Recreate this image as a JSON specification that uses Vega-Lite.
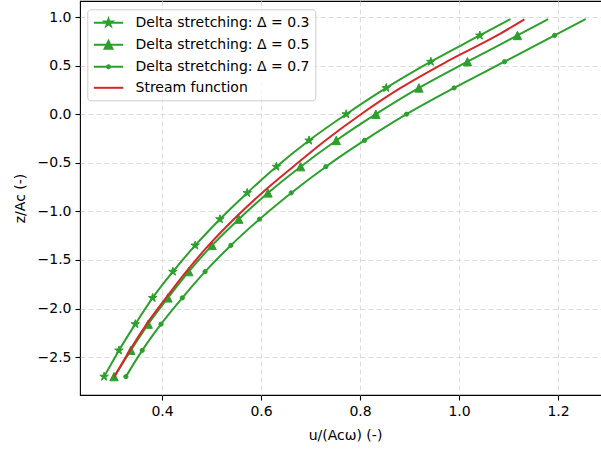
{
  "$schema": "https://vega.github.io/schema/vega-lite/v6.json",
  "width": 530,
  "height": 394,
  "autosize": {"type": "none"},
  "padding": {"left": 80, "top": 1, "right": 0, "bottom": 56},
  "background": "white",
  "config": {
    "view": {"stroke": "#000000", "strokeWidth": 1.1},
    "axis": {
      "labelFont": "DejaVu Sans",
      "labelFontSize": 14,
      "labelColor": "#000000",
      "titleFont": "DejaVu Sans",
      "titleFontSize": 14,
      "titleFontWeight": "normal",
      "titleColor": "#000000",
      "tickColor": "#000000",
      "tickSize": 5,
      "tickWidth": 1.1,
      "domain": false,
      "grid": true,
      "gridColor": "#dcdcdc",
      "gridDash": [5, 3],
      "gridWidth": 1,
      "labelPadding": 4
    },
    "legend": {
      "labelFont": "DejaVu Sans",
      "labelFontSize": 14,
      "labelColor": "#000000"
    }
  },
  "data": {
    "values": [
      {"s": "Delta stretching: Δ = 0.3", "z": -2.7, "u": 0.283},
      {"s": "Delta stretching: Δ = 0.3", "z": -2.43, "u": 0.313},
      {"s": "Delta stretching: Δ = 0.3", "z": -2.16, "u": 0.346},
      {"s": "Delta stretching: Δ = 0.3", "z": -1.89, "u": 0.381},
      {"s": "Delta stretching: Δ = 0.3", "z": -1.62, "u": 0.422},
      {"s": "Delta stretching: Δ = 0.3", "z": -1.35, "u": 0.467},
      {"s": "Delta stretching: Δ = 0.3", "z": -1.08, "u": 0.517},
      {"s": "Delta stretching: Δ = 0.3", "z": -0.81, "u": 0.572},
      {"s": "Delta stretching: Δ = 0.3", "z": -0.54, "u": 0.631},
      {"s": "Delta stretching: Δ = 0.3", "z": -0.27, "u": 0.697},
      {"s": "Delta stretching: Δ = 0.3", "z": 0.0, "u": 0.772},
      {"s": "Delta stretching: Δ = 0.3", "z": 0.27, "u": 0.853},
      {"s": "Delta stretching: Δ = 0.3", "z": 0.54, "u": 0.943},
      {"s": "Delta stretching: Δ = 0.3", "z": 0.81, "u": 1.042},
      {"s": "Delta stretching: Δ = 0.3", "z": 0.979, "u": 1.104},
      {"s": "Delta stretching: Δ = 0.5", "z": -2.7, "u": 0.303},
      {"s": "Delta stretching: Δ = 0.5", "z": -2.43, "u": 0.337},
      {"s": "Delta stretching: Δ = 0.5", "z": -2.16, "u": 0.372},
      {"s": "Delta stretching: Δ = 0.5", "z": -1.89, "u": 0.412},
      {"s": "Delta stretching: Δ = 0.5", "z": -1.62, "u": 0.454},
      {"s": "Delta stretching: Δ = 0.5", "z": -1.35, "u": 0.501},
      {"s": "Delta stretching: Δ = 0.5", "z": -1.08, "u": 0.555},
      {"s": "Delta stretching: Δ = 0.5", "z": -0.81, "u": 0.614},
      {"s": "Delta stretching: Δ = 0.5", "z": -0.54, "u": 0.68},
      {"s": "Delta stretching: Δ = 0.5", "z": -0.27, "u": 0.752},
      {"s": "Delta stretching: Δ = 0.5", "z": 0.0, "u": 0.832},
      {"s": "Delta stretching: Δ = 0.5", "z": 0.27, "u": 0.919},
      {"s": "Delta stretching: Δ = 0.5", "z": 0.54, "u": 1.017},
      {"s": "Delta stretching: Δ = 0.5", "z": 0.81, "u": 1.118},
      {"s": "Delta stretching: Δ = 0.5", "z": 0.979, "u": 1.18},
      {"s": "Delta stretching: Δ = 0.7", "z": -2.7, "u": 0.327},
      {"s": "Delta stretching: Δ = 0.7", "z": -2.43, "u": 0.36},
      {"s": "Delta stretching: Δ = 0.7", "z": -2.16, "u": 0.398},
      {"s": "Delta stretching: Δ = 0.7", "z": -1.89, "u": 0.441},
      {"s": "Delta stretching: Δ = 0.7", "z": -1.62, "u": 0.487},
      {"s": "Delta stretching: Δ = 0.7", "z": -1.35, "u": 0.539},
      {"s": "Delta stretching: Δ = 0.7", "z": -1.08, "u": 0.597},
      {"s": "Delta stretching: Δ = 0.7", "z": -0.81, "u": 0.661},
      {"s": "Delta stretching: Δ = 0.7", "z": -0.54, "u": 0.731},
      {"s": "Delta stretching: Δ = 0.7", "z": -0.27, "u": 0.809},
      {"s": "Delta stretching: Δ = 0.7", "z": 0.0, "u": 0.894},
      {"s": "Delta stretching: Δ = 0.7", "z": 0.27, "u": 0.99},
      {"s": "Delta stretching: Δ = 0.7", "z": 0.54, "u": 1.092},
      {"s": "Delta stretching: Δ = 0.7", "z": 0.81, "u": 1.193},
      {"s": "Delta stretching: Δ = 0.7", "z": 0.979, "u": 1.256},
      {"s": "Stream function", "z": -2.7, "u": 0.304},
      {"s": "Stream function", "z": -2.43, "u": 0.335},
      {"s": "Stream function", "z": -2.16, "u": 0.369},
      {"s": "Stream function", "z": -1.89, "u": 0.408},
      {"s": "Stream function", "z": -1.62, "u": 0.449},
      {"s": "Stream function", "z": -1.35, "u": 0.494},
      {"s": "Stream function", "z": -1.08, "u": 0.545},
      {"s": "Stream function", "z": -0.81, "u": 0.602},
      {"s": "Stream function", "z": -0.54, "u": 0.665},
      {"s": "Stream function", "z": -0.27, "u": 0.73},
      {"s": "Stream function", "z": 0.0, "u": 0.802},
      {"s": "Stream function", "z": 0.27, "u": 0.882},
      {"s": "Stream function", "z": 0.54, "u": 0.975},
      {"s": "Stream function", "z": 0.81, "u": 1.077},
      {"s": "Stream function", "z": 0.976, "u": 1.132}
    ]
  },
  "encoding": {
    "x": {
      "field": "u", "type": "quantitative",
      "scale": {"domain": [0.2343, 1.305], "nice": false, "zero": false},
      "axis": {"values": [0.4, 0.6, 0.8, 1.0, 1.2], "format": ".1f", "title": "u/(Acω) (-)", "titlePadding": 10}
    },
    "y": {
      "field": "z", "type": "quantitative",
      "scale": {"domain": [-2.889, 1.1647], "nice": false, "zero": false},
      "axis": {"values": [-2.5, -2.0, -1.5, -1.0, -0.5, 0.0, 0.5, 1.0], "format": ".1f", "title": "z/Ac (-)", "titlePadding": 10}
    }
  },
  "layer": [
    {
      "transform": [{"filter": "datum.s !== 'Stream function'"}],
      "mark": {"type": "line", "strokeWidth": 2, "interpolate": "monotone"},
      "encoding": {
        "order": {"field": "z", "type": "quantitative"},
        "color": {
          "field": "s", "type": "nominal",
          "scale": {
            "domain": ["Delta stretching: Δ = 0.3", "Delta stretching: Δ = 0.5", "Delta stretching: Δ = 0.7", "Stream function"],
            "range": ["#2ca02c", "#2ca02c", "#2ca02c", "#d62728"]
          },
          "legend": {
            "title": null,
            "orient": "none",
            "legendX": 7.3,
            "legendY": 8.3,
            "padding": 5.5,
            "symbolSize": 196,
            "symbolStrokeWidth": 2,
            "symbolOffset": 7.7,
            "labelOffset": 19,
            "rowPadding": 6,
            "labelLimit": 400,
            "strokeColor": "#cccccc",
            "fillColor": "rgba(255,255,255,0.8)",
            "cornerRadius": 3,
            "encode": {
              "symbols": {
                "update": {
                  "shape": {"signal": "datum.value === 'Delta stretching: Δ = 0.3' ? 'M-2.1,0L2.1,0M0,-0.55L0.1235,-0.17L0.523,-0.17L0.1998,0.065L0.3233,0.445L0,0.21L-0.3233,0.445L-0.1998,0.065L-0.523,-0.17L-0.1235,-0.17Z' : datum.value === 'Delta stretching: Δ = 0.5' ? 'M-2.1,0L2.1,0M0,-0.56L0.56,0.56L-0.56,0.56Z' : datum.value === 'Delta stretching: Δ = 0.7' ? 'M-2.1,0L2.1,0M0.22,0A0.22,0.22,0,1,1,-0.22,0A0.22,0.22,0,1,1,0.22,0Z' : 'M-2.1,0L2.1,0'"},
                  "fill": {"value": "#2ca02c"},
                  "stroke": {"signal": "datum.value === 'Stream function' ? '#d62728' : '#2ca02c'"},
                  "strokeWidth": {"value": 2},
                  "size": {"value": 196},
                  "opacity": {"value": 1}
                }
              }
            }
          }
        }
      }
    },
    {
      "transform": [{"filter": "datum.s === 'Delta stretching: Δ = 0.3' && datum.z < 0.9"}],
      "mark": {"type": "point", "filled": true, "fill": "#2ca02c", "stroke": "#2ca02c", "strokeWidth": 1, "opacity": 1, "size": 80,
        "shape": "M0,-1L0.2245,-0.309L0.951,-0.309L0.363,0.118L0.588,0.809L0,0.382L-0.588,0.809L-0.363,0.118L-0.951,-0.309L-0.2245,-0.309Z"},
      "encoding": {}
    },
    {
      "transform": [{"filter": "datum.s === 'Delta stretching: Δ = 0.5' && datum.z < 0.9"}],
      "mark": {"type": "point", "filled": true, "fill": "#2ca02c", "stroke": "#2ca02c", "strokeWidth": 1, "opacity": 1, "size": 70,
        "shape": "M0,-1L1,1L-1,1Z"},
      "encoding": {}
    },
    {
      "transform": [{"filter": "datum.s === 'Delta stretching: Δ = 0.7' && datum.z < 0.9"}],
      "mark": {"type": "point", "filled": true, "fill": "#2ca02c", "stroke": "#2ca02c", "strokeWidth": 1, "opacity": 1, "size": 18, "shape": "circle"},
      "encoding": {}
    },
    {
      "transform": [{"filter": "datum.s === 'Stream function'"}],
      "mark": {"type": "line", "strokeWidth": 2, "interpolate": "monotone"},
      "encoding": {
        "order": {"field": "z", "type": "quantitative"},
        "color": {"field": "s", "type": "nominal"}
      }
    }
  ]
}
